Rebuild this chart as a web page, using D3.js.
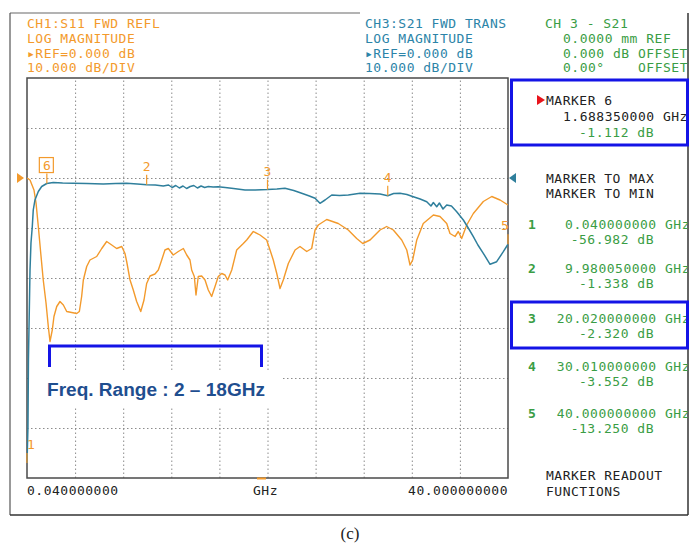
<!DOCTYPE html>
<meta charset="utf-8">
<style>
  body{ margin:0; background:#fff; }
  svg{ display:block; }
  .mono{ font-family:"DejaVu Sans Mono", monospace; font-size:13px; letter-spacing:0.5px; }
  .grid line{ stroke:#8c8c8c; stroke-width:1; stroke-dasharray:1.5,2.5; }
  .grid path{ display:none; }
</style>
<body>
<script src="https://d3js.org/d3.v7.min.js"></script>
<script>

// S11 (orange) trace, [GHz, dB]
var s11Trace = [[0.04,0],[0.29,-0.4],[0.62,-2.4],[0.79,-5.0],[0.98,-9.7],[1.18,-15.0],[1.39,-20.4],[1.62,-25.0],
  [1.81,-29.7],[1.95,-32.7],[2.14,-30.4],[2.28,-27.7],[2.51,-25.7],[2.78,-24.7],[3.06,-25.4],[3.34,-26.7],
  [3.75,-26.9],[4.17,-27.1],[4.39,-26.7],[4.58,-23.7],[4.72,-20.4],[5.0,-17.7],[5.27,-16.4],[5.83,-15.7],
  [6.25,-14.1],[6.66,-12.7],[7.08,-13.4],[7.49,-14.1],[7.91,-13.7],[8.18,-15.1],[8.32,-16.7],[8.6,-20.4],
  [8.87,-22.4],[9.15,-24.7],[9.49,-26.7],[9.76,-24.4],[9.98,-21.1],[10.26,-19.6],[10.67,-19.2],[10.95,-18.4],
  [11.23,-16.4],[11.5,-14.4],[11.78,-14.1],[12.19,-15.4],[12.61,-14.7],[13.03,-14.1],[13.31,-15.4],[13.58,-16.4],
  [13.72,-18.4],[13.94,-19.7],[14.08,-23.4],[14.27,-19.7],[14.55,-19.6],[14.83,-20.4],[15.1,-22.4],[15.38,-23.7],
  [15.66,-21.7],[15.93,-19.7],[16.22,-19.1],[16.49,-19.4],[16.71,-20.4],[17.05,-18.4],[17.46,-14.4],[18.01,-13.1],
  [18.29,-12.4],[18.84,-10.7],[19.4,-11.4],[19.95,-12.4],[20.23,-14.4],[20.5,-16.4],[20.79,-19.1],[21.06,-22.1],
  [21.33,-20.4],[21.75,-17.1],[22.31,-14.4],[22.72,-13.7],[23.28,-14.7],[23.69,-14.1],[23.97,-10.4],[24.24,-9.4],
  [24.94,-8.3],[25.9,-9.1],[26.73,-10.4],[27.43,-12.1],[27.93,-13.1],[28.54,-12.4],[29.37,-10.4],[29.92,-9.7],
  [30.47,-10.4],[31.17,-12.4],[31.59,-14.4],[31.86,-17.4],[32.08,-16.4],[32.42,-12.4],[32.96,-9.1],[33.8,-7.4],
  [34.35,-7.7],[34.91,-9.1],[35.18,-11.1],[35.6,-11.7],[35.87,-10.7],[36.15,-12.1],[36.57,-9.4],[37.12,-7.1],
  [37.95,-4.7],[38.65,-3.7],[39.34,-4.4],[40.0,-5.4]];

// S21 (teal) trace, [GHz, dB]
var s21Trace = [[0.04,-57],[0.12,-49.8],[0.16,-36.4],[0.29,-18.4],[0.37,-13],[0.48,-9.7],[0.56,-6.4],[0.70,-4.4],
  [0.98,-2.7],[1.26,-1.7],[1.68,-1.1],[2.22,-0.9],[3.0,-1.0],[3.89,-1.06],[5.0,-1.1],[6.38,-1.2],[7.4,-1.1],
  [8.32,-1.06],[9.2,-1.2],[9.98,-1.34],[10.7,-1.4],[11.36,-1.6],[11.8,-1.4],[12.1,-1.9],[12.4,-1.5],[12.7,-2.0],
  [13.0,-1.6],[13.3,-2.1],[13.6,-1.7],[13.9,-1.5],[14.2,-2.0],[14.5,-1.6],[14.8,-1.9],[15.1,-1.7],[15.5,-1.8],
  [15.93,-1.74],[16.5,-1.9],[17.2,-2.1],[18.15,-2.4],[19.0,-2.4],[20.02,-2.32],[20.8,-2.2],[21.47,-2.06],
  [22.2,-2.5],[22.86,-3.06],[23.5,-3.6],[23.97,-4.06],[24.38,-5.06],[24.8,-4.4],[25.36,-3.4],[26.0,-3.5],
  [26.73,-3.4],[27.71,-3.06],[28.5,-3.1],[29.37,-3.2],[30.01,-3.55],[30.5,-3.1],[31.03,-3.06],[31.6,-3.3],
  [32.13,-3.74],[32.7,-4.2],[33.25,-4.74],[33.6,-5.6],[33.8,-4.9],[34.08,-5.74],[34.3,-5.0],[34.6,-6.2],
  [34.91,-5.4],[35.3,-5.6],[35.74,-6.74],[36.29,-8.4],[36.7,-10],[37.12,-11.74],[37.5,-13.4],[37.95,-15.06],
  [38.51,-17.26],[39.06,-16.74],[39.61,-14.74],[40.0,-13.25]];

// markers on S21
var markerIds  = ["1", "2", "3", "4", "5", "6"];
var markerFreq = [0.04, 9.98005, 20.02, 30.01, 40.0, 1.68835];
var markerDb   = [-56.982, -1.338, -2.320, -3.552, -13.250, -1.112];

// marker readout list (right panel)
var readoutIds  = ["1", "2", "3", "4", "5"];
var readoutFreq = ["0.040000000 GHz", "9.980050000 GHz", "20.020000000 GHz", "30.010000000 GHz", "40.000000000 GHz"];
var readoutDb   = ["-56.982 dB", "-1.338 dB", "-2.320 dB", "-3.552 dB", "-13.250 dB"];
var readoutY    = [224, 268, 318, 366, 413];

// grid divisions
var xDivTicks = [4.036, 8.032, 12.028, 16.024, 20.02, 24.016, 28.012, 32.008, 36.004];
var yDivTicks = [-50, -40, -30, -20, -10, 0, 10];

var orange = "#f39a2c", teal = "#2f7f9c", tealText = "#2c84a8", green = "#3a9d45",
    boxBlue = "#1414e6", navy = "#1f4e8f";

var W = 700, H = 545;
var plot = {left:27, right:508, top:78, bottom:478};

var svg = d3.select("body").append("svg").attr("width", W).attr("height", H);

var x = d3.scaleLinear().domain([0.04, 40]).range([plot.left, plot.right]);
var y = d3.scaleLinear().domain([-60, 20]).range([plot.bottom, plot.top]);

// outer frame
svg.append("line").attr("x1",10).attr("x2",360).attr("y1",13).attr("y2",13).attr("stroke","#9a9a9a").attr("stroke-width",1.5);
svg.append("line").attr("x1",10).attr("x2",10).attr("y1",13).attr("y2",515).attr("stroke","#555").attr("stroke-width",1.2);
svg.append("line").attr("x1",688).attr("x2",688).attr("y1",13).attr("y2",515).attr("stroke","#333").attr("stroke-width",1.5);
svg.append("line").attr("x1",10).attr("x2",688).attr("y1",515).attr("y2",515).attr("stroke","#333").attr("stroke-width",1.5);

// grid
svg.append("g").attr("class","grid")
  .attr("transform","translate(0," + plot.bottom + ")")
  .call(d3.axisBottom(x).tickValues(xDivTicks).tickSize(-(plot.bottom - plot.top)).tickFormat(""));
svg.append("g").attr("class","grid")
  .attr("transform","translate(" + plot.left + ",0)")
  .call(d3.axisLeft(y).tickValues(yDivTicks).tickSize(-(plot.right - plot.left)).tickFormat(""));

// white patch behind the annotation text
svg.append("rect").attr("x",29).attr("y",370).attr("width",253).attr("height",36).attr("fill","#fff");

// plot border
svg.append("rect").attr("x",plot.left).attr("y",plot.top)
  .attr("width",plot.right-plot.left).attr("height",plot.bottom-plot.top)
  .attr("fill","none").attr("stroke","#4a4a4a").attr("stroke-width",1.5);

svg.append("clipPath").attr("id","clipPlot").append("rect")
  .attr("x",plot.left).attr("y",plot.top).attr("width",plot.right-plot.left).attr("height",plot.bottom-plot.top);

var line = d3.line().x(function(d){ return x(d[0]); }).y(function(d){ return y(d[1]); });

var traces = svg.append("g").attr("clip-path","url(#clipPlot)");
traces.append("path").datum(s11Trace).attr("d",line)
  .attr("fill","none").attr("stroke",orange).attr("stroke-width",1.4).attr("stroke-linejoin","round");
traces.append("path").datum(s21Trace).attr("d",line)
  .attr("fill","none").attr("stroke",teal).attr("stroke-width",1.5).attr("stroke-linejoin","round");

// reference arrows
svg.append("path").attr("d","M17,173 L24,178 L17,183 Z").attr("fill",orange);
svg.append("path").attr("d","M516,173 L509,178 L516,183 Z").attr("fill",teal);

// stimulus mark on bottom axis
svg.append("line").attr("x1",257).attr("x2",266).attr("y1",478.5).attr("y2",478.5).attr("stroke",orange).attr("stroke-width",2);

// markers
markerIds.forEach(function(id, i){
  var mx = x(markerFreq[i]), my = y(markerDb[i]);
  var lx = Math.max(31, Math.min(505, mx));
  svg.append("line").attr("x1",mx).attr("x2",mx).attr("y1",my-10).attr("y2",my)
    .attr("stroke",orange).attr("stroke-width",1.2);
  if (id === "6"){
    svg.append("rect").attr("x",mx-7.5).attr("y",my-26).attr("width",14).attr("height",15)
      .attr("fill","none").attr("stroke",orange).attr("stroke-width",1.2);
  }
  svg.append("text").attr("class","mono").attr("x",lx).attr("y",my-14)
    .attr("text-anchor","middle").attr("fill",orange).style("letter-spacing","0px").text(id);
});

// header texts
var hdrY = [28.3, 43, 57.5, 72];
var leftHdr = ["CH1:S11 FWD REFL", "LOG MAGNITUDE", "\u25B8REF=0.000 dB", "10.000 dB/DIV"];
var midHdr  = ["CH3:S21 FWD TRANS", "LOG MAGNITUDE", "\u25B8REF=0.000 dB", "10.000 dB/DIV"];
leftHdr.forEach(function(t,i){
  svg.append("text").attr("class","mono").attr("x",27).attr("y",hdrY[i]).attr("fill",orange).text(t);
});
midHdr.forEach(function(t,i){
  svg.append("text").attr("class","mono").attr("x",365).attr("y",hdrY[i]).attr("fill",tealText).text(t);
});
svg.append("text").attr("class","mono").attr("x",545).attr("y",hdrY[0]).attr("fill",green).text("CH 3 - S21");
svg.append("text").attr("class","mono").attr("x",563).attr("y",hdrY[1]).attr("fill",green).text("0.0000 mm REF");
svg.append("text").attr("class","mono").attr("x",563).attr("y",hdrY[2]).attr("fill",green).text("0.000 dB OFFSET");
svg.append("text").attr("class","mono").attr("x",563).attr("y",hdrY[3]).attr("fill",green).text("0.00\u00B0");
svg.append("text").attr("class","mono").attr("x",638).attr("y",hdrY[3]).attr("fill",green).text("OFFSET");

// right panel
svg.append("clipPath").attr("id","clipPanel").append("rect").attr("x",509).attr("y",78).attr("width",178.5).attr("height",436);
var panel = svg.append("g").attr("clip-path","url(#clipPanel)");

panel.append("path").attr("d","M537,95 L545,100 L537,105 Z").attr("fill","#e8141c");
panel.append("text").attr("class","mono").attr("x",546).attr("y",104.5).attr("fill","#222").text("MARKER 6");
panel.append("text").attr("class","mono").attr("x",563).attr("y",120.5).attr("fill","#222").text("1.688350000 GHz");
panel.append("text").attr("class","mono").attr("x",654).attr("y",136.5).attr("text-anchor","end").attr("fill",green).text("-1.112 dB");

panel.append("text").attr("class","mono").attr("x",546).attr("y",182.5).attr("fill","#222").text("MARKER TO MAX");
panel.append("text").attr("class","mono").attr("x",546).attr("y",197.5).attr("fill","#222").text("MARKER TO MIN");

readoutIds.forEach(function(id,i){
  var cy = readoutY[i];
  panel.append("text").attr("class","mono").attr("x",528).attr("y",cy+4.5)
    .attr("fill",green).attr("font-weight","bold").text(id);
  panel.append("text").attr("class","mono").attr("x",690).attr("y",cy+4.5)
    .attr("text-anchor","end").attr("fill",green).text(readoutFreq[i]);
  panel.append("text").attr("class","mono").attr("x",654).attr("y",cy+20)
    .attr("text-anchor","end").attr("fill",green).text(readoutDb[i]);
});

panel.append("text").attr("class","mono").attr("x",546).attr("y",479.5).attr("fill","#222").text("MARKER READOUT");
panel.append("text").attr("class","mono").attr("x",546).attr("y",496).attr("fill","#222").text("FUNCTIONS");

// blue highlight boxes
svg.append("rect").attr("x",511.5).attr("y",80).attr("width",176).attr("height",65)
  .attr("fill","none").attr("stroke",boxBlue).attr("stroke-width",3);
svg.append("rect").attr("x",511.5).attr("y",302).attr("width",176).attr("height",46)
  .attr("fill","none").attr("stroke",boxBlue).attr("stroke-width",3);

// x axis labels
svg.append("text").attr("class","mono").attr("x",27).attr("y",495).attr("fill","#222").text("0.040000000");
svg.append("text").attr("class","mono").attr("x",253).attr("y",495).attr("fill","#222").text("GHz");
svg.append("text").attr("class","mono").attr("x",508).attr("y",495).attr("text-anchor","end").attr("fill","#222").text("40.000000000");

// frequency range bracket
svg.append("path").attr("d","M49.5,367 V346 H261.5 V367")
  .attr("fill","none").attr("stroke",boxBlue).attr("stroke-width",3);
svg.append("text").attr("x",47).attr("y",395.5)
  .attr("font-family","'Liberation Sans', Arial, sans-serif").attr("font-weight","bold")
  .attr("font-size","18px").attr("fill",navy)
  .attr("textLength",218).attr("lengthAdjust","spacingAndGlyphs")
  .text("Freq. Range : 2 \u2013 18GHz");

// caption
svg.append("text").attr("x",350).attr("y",539).attr("text-anchor","middle")
  .attr("font-family","'Liberation Serif', 'DejaVu Serif', serif").attr("font-size","17px")
  .attr("fill","#222").text("(c)");

</script>
